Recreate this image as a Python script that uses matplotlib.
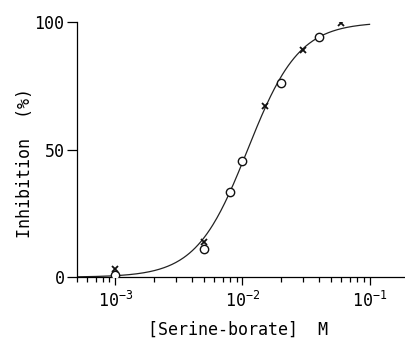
import numpy as np
import matplotlib
matplotlib.use("Agg")
import matplotlib.pyplot as plt
from matplotlib.ticker import LogLocator, NullFormatter, FuncFormatter

# open circles
conc_o = [1e-3, 5e-3, 8e-3, 1e-2, 2e-2, 4e-2]
inhib_o = [0.8, 10.9, 33.2, 45.5, 76.0, 94.0]
# crosses
conc_x = [1e-3, 5e-3, 1.5e-2, 3e-2, 6e-2]
inhib_x = [3.3, 13.6, 67.0, 89.0, 99.7]

# fitted curve (Hill equation) drawn through the points
ic50 = 1.1e-2
hill_n = 2.15
curve_start = 5e-4
curve_end = 1e-1

plt.rcParams['font.family'] = ['DejaVu Sans Mono']
plt.rcParams['mathtext.fontset'] = 'custom'
plt.rcParams['mathtext.rm'] = 'DejaVu Sans Mono'
plt.rcParams['mathtext.default'] = 'regular'

fig = plt.figure(figsize=(4.05, 3.46), dpi=100)
ax = fig.add_axes([0.19, 0.199, 0.81, 0.737])

xs = np.logspace(np.log10(curve_start), np.log10(curve_end), 300)
ys = 100 * (xs / ic50) ** hill_n / (1 + (xs / ic50) ** hill_n)
ax.plot(xs, ys, color='#222222', lw=0.9, zorder=2)
ax.plot(conc_o, inhib_o, 'o', ms=6, mfc='white', mec='#111111', mew=1.0, zorder=3)
ax.plot(conc_x, inhib_x, 'x', ms=5, color='#111111', mew=1.3, zorder=4)

ax.set_xscale('log')
ax.set_xlim(5e-4, 0.19)
ax.set_ylim(0, 100)
ax.xaxis.set_major_locator(LogLocator(base=10, numticks=10))
ax.xaxis.set_minor_locator(LogLocator(base=10, subs=np.arange(2, 10), numticks=10))
ax.xaxis.set_major_formatter(FuncFormatter(lambda v, p: '$10^{%d}$' % round(np.log10(v))))
ax.xaxis.set_minor_formatter(NullFormatter())
ax.set_yticks([0, 50, 100])

for s in ['top', 'right']:
    ax.spines[s].set_visible(False)
ax.spines['left'].set_bounds(0, 100)
ax.spines['left'].set_linewidth(0.9)
ax.spines['bottom'].set_linewidth(0.9)

ax.tick_params(axis='y', direction='out', length=7, width=0.9, pad=2, labelsize=12)
ax.tick_params(axis='x', which='major', direction='out', length=6, width=0.9, pad=4, labelsize=12)
ax.tick_params(axis='x', which='minor', direction='out', length=3.5, width=0.9)

ax.set_ylabel('Inhibition  (%)', fontsize=12, va='center')
ax.set_xlabel('[Serine-borate]  M', fontsize=12, va='center')
ax.yaxis.set_label_coords(-0.158, 0.447)
ax.xaxis.set_label_coords(0.49, -0.208)

fig.savefig('out.png', dpi=100)
